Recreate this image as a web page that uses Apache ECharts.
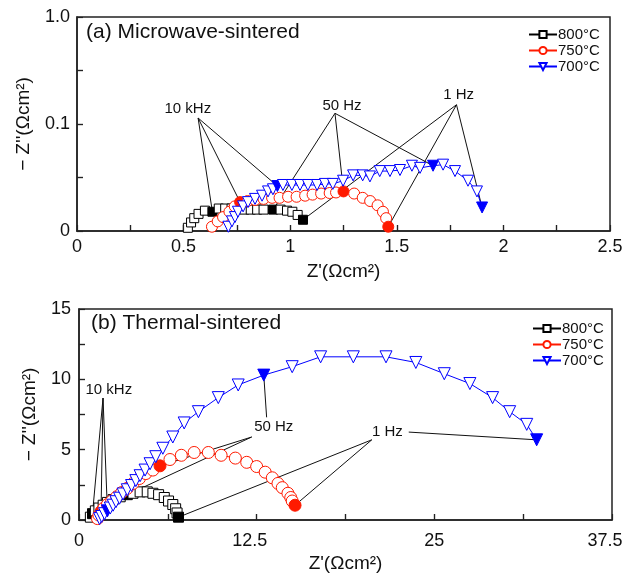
<!DOCTYPE html>
<html>
<head>
<meta charset="utf-8">
<script src="https://cdn.jsdelivr.net/npm/echarts@6/dist/echarts.min.js"></script>
<style>html,body{margin:0;padding:0;background:#fff}#c{width:627px;height:575px}</style>
</head>
<body>
<div id="c"></div>
<script>
// ---------- DATA ----------
const seriesNames = ['800°C', '750°C', '700°C'];
// (a) Microwave-sintered  [Z', -Z'']
const a800 = [[0.52,0.003],[0.535,0.008],[0.55,0.012],[0.57,0.016],[0.6,0.019],[0.635,0.018],[0.665,0.021],[0.695,0.021],[0.725,0.021],[0.755,0.021],[0.785,0.02],[0.815,0.02],[0.845,0.02],[0.875,0.02],[0.92,0.02],[0.955,0.02],[0.985,0.019],[1.01,0.018],[1.035,0.015],[1.06,0.0105]];
const a750 = [[0.633,0.004],[0.66,0.009],[0.685,0.013],[0.715,0.018],[0.74,0.023],[0.765,0.027],[0.8,0.028],[0.835,0.029],[0.875,0.03],[0.915,0.031],[0.95,0.031],[0.99,0.032],[1.03,0.032],[1.07,0.033],[1.105,0.034],[1.145,0.035],[1.185,0.0355],[1.215,0.036],[1.25,0.037],[1.3,0.035],[1.34,0.031],[1.375,0.028],[1.41,0.024],[1.435,0.018],[1.45,0.012],[1.46,0.004]];
const a700 = [[0.71,0.004],[0.727,0.009],[0.741,0.013],[0.755,0.018],[0.779,0.023],[0.802,0.027],[0.835,0.03],[0.868,0.033],[0.896,0.037],[0.919,0.039],[0.94,0.042],[0.966,0.043],[1.008,0.043],[1.046,0.043],[1.083,0.043],[1.126,0.043],[1.163,0.044],[1.2,0.044],[1.248,0.047],[1.295,0.052],[1.34,0.052],[1.374,0.051],[1.42,0.056],[1.468,0.056],[1.515,0.057],[1.571,0.061],[1.609,0.059],[1.67,0.061],[1.717,0.062],[1.773,0.056],[1.834,0.047],[1.876,0.037],[1.9,0.022]];
// indices of filled markers: [10 kHz, 50 Hz, 1 Hz]
const aFilled800 = [5, 14, 19];
const aFilled750 = [5, 18, 25];
const aFilled700 = [10, 27, 32];
// (b) Thermal-sintered
const b800 = [[0.8,0.2],[0.95,0.45],[1.15,0.65],[1.4,0.85],[1.7,1.05],[2.0,1.25],[2.4,1.45],[2.9,1.65],[3.4,1.8],[3.8,1.9],[4.3,2.0],[4.8,2.0],[5.2,1.9],[5.6,1.8],[6.0,1.6],[6.3,1.35],[6.6,1.1],[6.8,0.8],[6.9,0.5],[7.0,0.2]];
const b750 = [[1.3,0.1],[1.4,0.35],[1.55,0.6],[1.75,0.85],[2.0,1.1],[2.3,1.35],[2.65,1.65],[3.0,1.95],[3.4,2.25],[3.8,2.6],[4.25,2.95],[4.7,3.3],[5.2,3.55],[5.7,3.85],[6.4,4.3],[7.2,4.6],[8.1,4.8],[9.1,4.8],[10.0,4.6],[11.0,4.4],[11.8,4.1],[12.5,3.8],[13.1,3.4],[13.6,3.0],[14.0,2.6],[14.3,2.3],[14.7,1.9],[14.9,1.6],[15.0,1.35],[15.2,1.05]];
const b700 = [[1.45,0.1],[1.6,0.25],[1.8,0.45],[2.0,0.65],[2.2,0.85],[2.4,1.05],[2.6,1.3],[2.85,1.55],[3.1,1.85],[3.4,2.15],[3.7,2.45],[4.0,2.8],[4.3,3.15],[4.65,3.55],[5.0,4.0],[5.4,4.5],[5.9,5.1],[6.6,5.9],[7.4,6.9],[8.4,7.7],[9.8,8.7],[11.2,9.6],[13.0,10.3],[15.0,10.9],[17.0,11.6],[19.3,11.6],[21.6,11.6],[23.7,11.2],[25.7,10.4],[27.5,9.7],[29.1,8.7],[30.3,7.7],[31.5,6.8],[32.2,5.7]];
const bFilled800 = [1, 8, 19];
const bFilled750 = [2, 13, 29];
const bFilled700 = [3, 22, 33];
// tick labels and tick positions (major + minor)
const aYTickLabels = ['0', '0.1', '1.0'];
const aXTicks = [0.25, 0.5, 0.75, 1, 1.25, 1.5, 1.75, 2, 2.25];
const aYTicks = [0.05, 0.1, 0.15];
const bXTicks = [6.25, 12.5, 18.75, 25, 31.25];
const bYTicks = [2.5, 5, 7.5, 10, 12.5];
// annotations: label text + position, and leader lines (start point -> [series, index])
const aNotes = [
  {text:'10 kHz', pos:[0.52,0.114], from:[0.568,0.1056], to:[['800',5],['750',5],['700',10]]},
  {text:'50 Hz',  pos:[1.243,0.117], from:[1.21,0.110], to:[['800',14],['750',18],['700',27]]},
  {text:'1 Hz',   pos:[1.79,0.127], from:[1.78,0.118], to:[['800',19],['750',25],['700',32]]}
];
const bNotes = [
  {text:'10 kHz', pos:[2.1,9.24], from:[1.69,8.67], to:[['800',1],['750',2],['700',3]]},
  {text:'50 Hz',  pos:[13.7,6.6], from:[12.15,5.9], to:[['800',8],['750',13]]},
  {text:'',       pos:null, from:[13.2,7.3], to:[['700',22]]},
  {text:'1 Hz',   pos:[21.7,6.25], from:[20.6,5.7], to:[['800',19],['750',29]]},
  {text:'',       pos:null, from:[23.2,6.25], to:[['700',33]]}
];

// ---------- STYLE / BUILD ----------
const FF = "'Liberation Sans', Arial, Helvetica, sans-serif";
const TXT = '#111';
const AX = '#222';
const W = 627, H = 575, TICK_PX = 6;
const gridA = {left:77, right:17, top:17, bottom:344};
const gridB = {left:79, right:15, top:309, bottom:55};
const rangeA = {x:[0, 2.5], y:[0, 0.2]};
const rangeB = {x:[0, 37.5], y:[0, 15]};
const colors = {'800':'#000000','750':'#ff1a00','700':'#0000ff'};
const syms = {'800':'rect','750':'circle','700':'triangle'};
const rot = {'800':0,'750':0,'700':180};

function mkSeries(key, name, data, filled, gi, size) {
  const c = colors[key];
  return {
    type:'line', name:name, xAxisIndex:gi, yAxisIndex:gi,
    symbol:syms[key], symbolRotate:rot[key], symbolSize:size[key],
    showSymbol:true,
    lineStyle:{color:c, width:1},
    itemStyle:{color:'#fff', borderColor:c, borderWidth:1},
    data:data.map((p,i)=> filled.indexOf(i)>=0 ? {value:p, itemStyle:{color:c, borderColor:c}} : p),
    z:3
  };
}

function notesSeries(notes, sets, gi) {
  const out = [];
  notes.forEach(n => {
    n.to.forEach(t => out.push({
      type:'line', xAxisIndex:gi, yAxisIndex:gi, silent:true, z:2,
      symbol:'none', lineStyle:{color:'#111', width:1},
      data:[n.from, sets[t[0]][t[1]]]
    }));
    if (n.pos) out.push({
      type:'line', xAxisIndex:gi, yAxisIndex:gi, silent:true, z:5,
      symbol:'circle', symbolSize:1, showSymbol:true,
      itemStyle:{color:'transparent', borderWidth:0}, lineStyle:{width:0},
      label:{show:true, position:'inside', formatter:n.text, fontSize:15, color:TXT, fontFamily:FF},
      data:[n.pos]
    });
  });
  return out;
}

// inward tick marks, placed in data space through the axes (length = TICK_PX converted to data units)
function tickSeries(gi, grid, range, xt, yt) {
  const pw = W - grid.left - grid.right, ph = H - grid.top - grid.bottom;
  const lx = TICK_PX * (range.x[1] - range.x[0]) / pw;
  const ly = TICK_PX * (range.y[1] - range.y[0]) / ph;
  const segs = [];
  xt.forEach(v => segs.push([{coord:[v, range.y[0]]}, {coord:[v, range.y[0] + ly]}]));
  yt.forEach(v => segs.push([{coord:[range.x[0], v]}, {coord:[range.x[0] + lx, v]}]));
  return {
    type:'line', xAxisIndex:gi, yAxisIndex:gi, silent:true, z:1,
    symbol:'none', showSymbol:false, lineStyle:{width:0}, data:[[range.x[0], range.y[0]]],
    markLine:{silent:true, symbol:['none','none'], animation:false, label:{show:false},
      lineStyle:{color:AX, width:1.2, type:'solid'}, emphasis:{disabled:true}, data:segs}
  };
}

function mainAxis(extra) {
  return Object.assign({
    type:'value',
    axisLine:{show:true, lineStyle:{color:AX, width:1.5}},
    axisTick:{show:true, inside:true, length:TICK_PX, lineStyle:{color:AX, width:1.2}},
    minorTick:{show:true, splitNumber:2, length:TICK_PX, lineStyle:{color:AX, width:1.2}},
    splitLine:{show:false}, minorSplitLine:{show:false},
    nameLocation:'middle',
    nameTextStyle:{fontSize:19, color:TXT, fontFamily:FF}
  }, extra);
}

function aYLabel(v) {
  const i = Math.round(Number(v) / 0.1);
  const s = aYTickLabels[i];
  return (typeof s === 'string') ? s : String(v);
}
function bXLabel(v) {
  const n = Number(v);
  const s = String(v);
  return (Math.abs(n - Math.round(n)) > 1e-9) ? '{s|' + s + '}' : s;
}

const aSets = {'800':a800,'750':a750,'700':a700};
const bSets = {'800':b800,'750':b750,'700':b700};
const sizeA = {'800':9,'750':11,'700':11};
const sizeB = {'800':10,'750':12,'700':12};

const legendCommon = {data:seriesNames, orient:'vertical', padding:0, itemGap:1, itemWidth:28, itemHeight:9,
  textStyle:{fontSize:15, color:TXT, fontFamily:FF, lineHeight:12, padding:[0,0,0,-4]}, selectedMode:false};

const option = {
  animation:false,
  backgroundColor:'#fff',
  title:[
    {text:'(a) Microwave-sintered', left:86, top:22, padding:0, textStyle:{fontSize:21, fontWeight:'normal', color:TXT, fontFamily:FF}},
    {text:'(b) Thermal-sintered', left:91, top:313, padding:0, textStyle:{fontSize:21, fontWeight:'normal', color:TXT, fontFamily:FF}}
  ],
  legend:[
    Object.assign({left:528, top:27}, legendCommon),
    Object.assign({left:532, top:321}, legendCommon)
  ],
  grid:[
    Object.assign({show:true, borderColor:AX, borderWidth:1.5, backgroundColor:'rgba(0,0,0,0)'}, gridA),
    Object.assign({show:true, borderColor:AX, borderWidth:1.5, backgroundColor:'rgba(0,0,0,0)'}, gridB)
  ],
  xAxis:[
    mainAxis({gridIndex:0, min:rangeA.x[0], max:rangeA.x[1], interval:0.5, name:"Z'(Ωcm²)", nameGap:31,
      axisLabel:{fontSize:18, color:TXT, margin:7, fontFamily:FF}}),
    mainAxis({gridIndex:1, min:rangeB.x[0], max:rangeB.x[1], interval:12.5, name:"Z'(Ωcm²)", nameGap:34,
      axisLabel:{fontSize:18, color:TXT, margin:12, fontFamily:FF, formatter:bXLabel,
        rich:{s:{fontSize:18, color:TXT, fontFamily:FF, padding:[0,14,0,0]}}}})
  ],
  yAxis:[
    mainAxis({gridIndex:0, min:rangeA.y[0], max:rangeA.y[1], interval:0.1, name:"− Z''(Ωcm²)", nameGap:44, nameRotate:90,
      axisLabel:{fontSize:18, color:TXT, margin:7, fontFamily:FF, formatter:aYLabel}}),
    mainAxis({gridIndex:1, min:rangeB.y[0], max:rangeB.y[1], interval:5, name:"− Z''(Ωcm²)", nameGap:40, nameRotate:90,
      axisLabel:{fontSize:18, color:TXT, margin:8, fontFamily:FF}})
  ],
  series:[
    tickSeries(0, gridA, rangeA, aXTicks, aYTicks),
    tickSeries(1, gridB, rangeB, bXTicks, bYTicks),
    mkSeries('800', seriesNames[0], a800, aFilled800, 0, sizeA),
    mkSeries('750', seriesNames[1], a750, aFilled750, 0, sizeA),
    mkSeries('700', seriesNames[2], a700, aFilled700, 0, sizeA),
    mkSeries('800', seriesNames[0], b800, bFilled800, 1, sizeB),
    mkSeries('750', seriesNames[1], b750, bFilled750, 1, sizeB),
    mkSeries('700', seriesNames[2], b700, bFilled700, 1, sizeB)
  ].concat(notesSeries(aNotes, aSets, 0), notesSeries(bNotes, bSets, 1))
};

const chart = echarts.init(document.getElementById('c'));
chart.setOption(option);
</script>
</body>
</html>
